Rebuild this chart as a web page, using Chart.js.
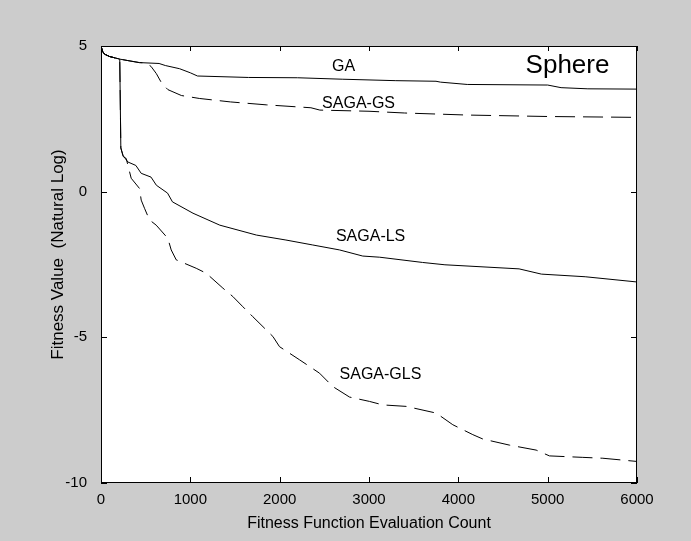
<!DOCTYPE html>
<html>
<head>
<meta charset="utf-8">
<script src="https://cdn.jsdelivr.net/npm/chart.js@4.4.1/dist/chart.umd.min.js"></script>
<style>
  html, body { margin: 0; padding: 0; background: #cccccc; }
  canvas { display: block; }
</style>
</head>
<body>
<canvas id="sphereChart" width="691" height="541"></canvas>
<script>
// Sphere benchmark: log fitness vs evaluation count for GA and the SAGA variants.

const FONT = '"Liberation Sans", Arial, sans-serif';

const xTicks = [0, 1000, 2000, 3000, 4000, 5000, 6000];
const yTicks = [-10, -5, 0, 5];

const gaX = [0, 20, 40, 95, 210, 300, 430, 650, 720, 880, 1000, 1080, 1650, 2200, 2700, 3300, 3750, 3800, 4100, 5000, 5150, 5450, 6000];
const gaY = [5.0, 4.8, 4.72, 4.64, 4.55, 4.5, 4.43, 4.40, 4.33, 4.22, 4.08, 3.97, 3.92, 3.91, 3.86, 3.81, 3.79, 3.76, 3.68, 3.66, 3.57, 3.53, 3.52];

const gsX = [0, 20, 40, 95, 210, 300, 430, 500, 560, 620, 680, 750, 900, 1100, 1450, 1850, 2350, 2450, 3000, 3400, 4100, 5000, 6000];
const gsY = [5.0, 4.8, 4.72, 4.64, 4.55, 4.5, 4.43, 4.42, 4.3, 4.05, 3.72, 3.5, 3.3, 3.2, 3.08, 2.98, 2.88, 2.8, 2.76, 2.7, 2.63, 2.58, 2.55];

const lsX = [0, 20, 40, 95, 210, 222, 245, 300, 390, 450, 560, 620, 745, 800, 1030, 1330, 1740, 2070, 2370, 2670, 2930, 3120, 3600, 3850, 4680, 4930, 5420, 6000];
const lsY = [5.0, 4.8, 4.72, 4.64, 4.55, 1.5, 1.25, 1.02, 0.9, 0.63, 0.5, 0.22, -0.05, -0.35, -0.74, -1.15, -1.49, -1.66, -1.83, -2.0, -2.21, -2.25, -2.43, -2.51, -2.65, -2.83, -2.92, -3.1];

const glsX = [0, 20, 40, 95, 210, 222, 250, 282, 338, 431, 450, 487, 543, 618, 748, 786, 842, 1066, 1178, 1364, 1476, 1588, 1699, 1924, 1998, 2222, 2446, 2595, 2782, 3006, 3155, 3416, 3752, 3938, 4162, 4274, 4573, 4871, 5020, 5393, 5617, 6000];
const glsY = [5.0, 4.8, 4.72, 4.64, 4.55, 1.5, 1.2, 1.14, 0.46, 0.11, -0.29, -0.57, -0.97, -1.15, -1.6, -2.0, -2.34, -2.63, -2.8, -3.31, -3.6, -3.95, -4.29, -4.97, -5.32, -5.77, -6.23, -6.69, -7.05, -7.2, -7.32, -7.37, -7.6, -8.0, -8.34, -8.49, -8.7, -8.87, -9.07, -9.12, -9.15, -9.26];

// in-plot curve labels, anchored in data units
const labelText = ['GA', 'SAGA-GS', 'SAGA-LS', 'SAGA-GLS'];
const labelX = [2715, 2883, 3018, 3128];
const labelY = [4.28, 3.03, -1.55, -6.29];
const titleText = 'Sphere';
const titleX = 5222;
const titleY = 4.31;
const yTitle = 'Fitness Value  (Natural Log)';

const pts = (xs, ys) => xs.map((x, i) => ({ x, y: ys[i] }));

function series(data, dashed) {
    return {
        data,
        borderColor: '#000',
        borderWidth: 1,
        borderDash: dashed ? [20, 8] : [],
        pointRadius: 0,
        tension: 0,
        fill: false
    };
}

// white plot box, black frame, MATLAB-style inward ticks and the text labels
const matlabAxes = {
    id: 'matlabAxes',
    beforeDatasetsDraw(chart) {
        const { ctx, chartArea: a } = chart;
        ctx.save();
        ctx.fillStyle = '#fff';
        ctx.fillRect(a.left, a.top, a.right - a.left, a.bottom - a.top);
        ctx.restore();
    },
    afterDraw(chart) {
        const { ctx, chartArea: a, scales } = chart;
        const xs = scales.x, ys = scales.y;
        ctx.save();
        ctx.strokeStyle = '#000';
        ctx.lineWidth = 1;
        ctx.strokeRect(a.left + 0.5, a.top + 0.5, a.right - a.left - 1, a.bottom - a.top - 1);
        ctx.beginPath();
        xTicks.forEach(v => {
            const px = Math.round(xs.getPixelForValue(v)) + 0.5;
            ctx.moveTo(px, a.bottom); ctx.lineTo(px, a.bottom - 6);
            ctx.moveTo(px, a.top); ctx.lineTo(px, a.top + 5);
        });
        yTicks.forEach(v => {
            const py = Math.round(ys.getPixelForValue(v)) + 0.5;
            ctx.moveTo(a.left, py); ctx.lineTo(a.left + 6, py);
            ctx.moveTo(a.right, py); ctx.lineTo(a.right - 6, py);
        });
        ctx.stroke();

        ctx.fillStyle = '#000';
        ctx.textAlign = 'center';
        ctx.textBaseline = 'middle';
        ctx.font = '16px ' + FONT;
        labelText.forEach((t, i) => {
            ctx.fillText(t, xs.getPixelForValue(labelX[i]), ys.getPixelForValue(labelY[i]));
        });
        ctx.font = '26px ' + FONT;
        ctx.fillText(titleText, xs.getPixelForValue(titleX), ys.getPixelForValue(titleY));

        // y axis title sits a little above the box centre, as in the original
        ctx.translate(58, (a.top + a.bottom) / 2 - 10);
        ctx.rotate(-Math.PI / 2);
        ctx.font = '17px ' + FONT;
        ctx.fillText(yTitle, 0, 0);
        ctx.restore();
    }
};

new Chart(document.getElementById('sphereChart'), {
    type: 'line',
    data: {
        datasets: [
            series(pts(gaX, gaY), false),
            series(pts(gsX, gsY), true),
            series(pts(lsX, lsY), false),
            series(pts(glsX, glsY), true)
        ]
    },
    options: {
        responsive: false,
        animation: false,
        layout: { padding: { left: 0, top: 46, right: 54, bottom: 0 } },
        plugins: { legend: { display: false }, tooltip: { enabled: false } },
        scales: {
            x: {
                type: 'linear',
                min: 0,
                max: 6000,
                afterBuildTicks: (s) => { s.ticks = xTicks.map(v => ({ value: v })); },
                afterFit: (s) => { s.height = 58; },
                grid: { display: false },
                border: { display: false },
                ticks: {
                    color: '#000', padding: 0, maxRotation: 0,
                    font: { family: FONT, size: 15 },
                    callback: (v) => String(v)
                },
                title: {
                    display: true,
                    text: 'Fitness Function Evaluation Count',
                    color: '#000',
                    padding: { top: 0, bottom: 8 },
                    font: { family: FONT, size: 16 }
                }
            },
            y: {
                type: 'linear',
                min: -10,
                max: 5,
                afterBuildTicks: (s) => { s.ticks = yTicks.map(v => ({ value: v })); },
                afterFit: (s) => { s.width = 101; },
                grid: { display: false },
                border: { display: false },
                ticks: {
                    color: '#000', padding: 6,
                    font: { family: FONT, size: 15 },
                    callback: (v) => String(v)
                }
            }
        }
    },
    plugins: [matlabAxes]
});
</script>
</body>
</html>
